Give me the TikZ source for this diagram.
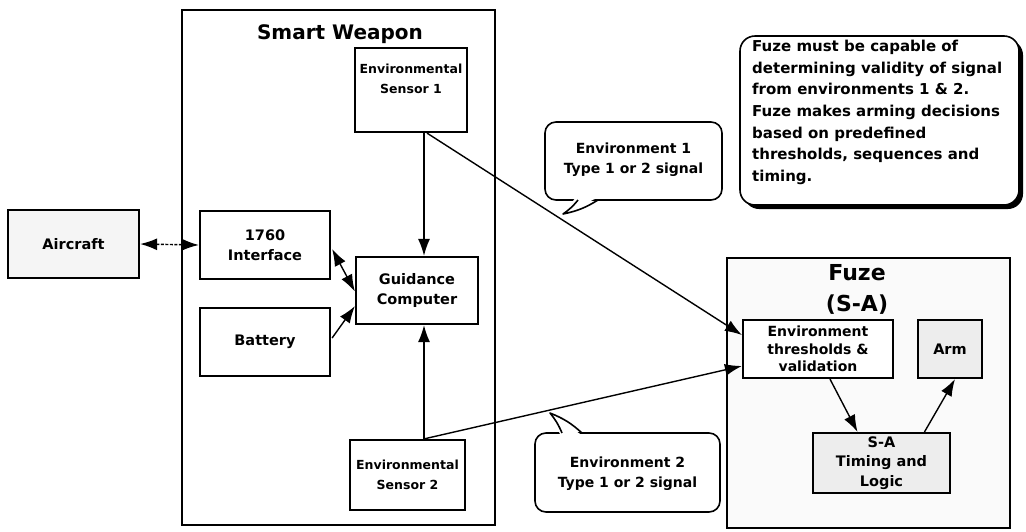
\documentclass[tikz,border=0pt]{standalone}
\usepackage{fontspec}
\setmainfont{DejaVu Sans}
\usetikzlibrary{arrows.meta,calc}
\begin{document}
\begin{tikzpicture}[x=1pt,y=-1pt,
  every node/.style={inner sep=0pt},
  frame/.style={draw, line width=2pt},
  blk/.style={draw, line width=2.2pt, fill=white, align=center,
    font=\bfseries\fontsize{14.5}{20.5}\selectfont},
  shaded/.style={blk, fill=black!7},
  bubble/.style={draw, line width=1.6pt, fill=white, rounded corners=11pt},
  btxt/.style={align=center, font=\bfseries\fontsize{14}{20}\selectfont},
  conn/.style={line width=1.4pt, -{Latex[length=17pt,width=12pt]}},
  dconn/.style={line width=1.4pt, {Latex[length=17pt,width=12pt]}-{Latex[length=17pt,width=12pt]}}
]
\useasboundingbox (0,0) rectangle (1026,531);
\fill[white] (0,0) rectangle (1026,531);

% smart weapon frame and its parts
\node[frame, minimum width=313pt, minimum height=515pt] (sw) at (338.5,267.5) {};
\node[font=\bfseries\fontsize{20}{24}\selectfont] (swt) at (340,34) {Smart Weapon};
\node[blk, fill=black!4, minimum width=131pt, minimum height=68pt] (air) at (73.5,244) {Aircraft};
\node[blk, minimum width=130pt, minimum height=68pt] (iface) at (265,245) {1760\\Interface};
\node[blk, minimum width=130pt, minimum height=68pt] (bat) at (265,342) {\raisebox{4pt}{Battery}};
\node[blk, minimum width=122pt, minimum height=67pt] (gc) at (417,290.5) {Guidance\\Computer};
\node[blk, minimum width=112pt, minimum height=84pt] (sen1) at (411,90) {};
\node[align=center, font=\bfseries\fontsize{12.5}{20}\selectfont] (sen1t) at (411,79) {Environmental\\Sensor 1};
\node[blk, minimum width=115pt, minimum height=70pt, font=\bfseries\fontsize{12.5}{20.5}\selectfont] (sen2) at (407.5,475) {Environmental\\Sensor 2};

% fuze frame and its parts
\node[frame, fill=black!2, minimum width=283pt, minimum height=270pt] (fz) at (868.5,393) {};
\node[font=\bfseries\fontsize{22}{26}\selectfont] (fzt) at (857,273) {Fuze};
\node[font=\bfseries\fontsize{22}{26}\selectfont] (fzs) at (857,305) {(S-A)};
\node[blk, minimum width=150pt, minimum height=58pt, font=\bfseries\fontsize{14}{17.5}\selectfont] (thr) at (818,349) {Environment\\thresholds \&\\validation};
\node[shaded, minimum width=64pt, minimum height=58pt] (arm) at (950,349) {Arm};
\node[shaded, minimum width=137pt, minimum height=60pt, font=\bfseries\fontsize{14.5}{19.5}\selectfont] (tl) at (881.5,463) {S-A\\Timing and\\Logic};

% note box with drop shadow
\fill[rounded corners=15pt] (744,40) rectangle (1023,209);
\draw[bubble, rounded corners=15pt] (740,36) rectangle (1019,205);
\node[anchor=north west, align=left, font=\bfseries\fontsize{15}{21.6}\selectfont] (note) at (752,40)
  {Fuze must be capable of\\determining validity of signal\\from environments 1 \& 2.\\Fuze makes arming decisions\\based on predefined\\thresholds, sequences and\\timing.};

% signal callouts
\draw[bubble] (545,122) rectangle (722,200);
\fill[white] (576,197) -- (563,214) -- (599,197) -- cycle;
\draw[line width=1.6pt, line join=round] (578,200) to[bend left=8] (563,214) to[bend right=10] (598,200);
\node[btxt] (c1) at (633.5,160) {Environment 1\\Type 1 or 2 signal};

\draw[bubble] (535,433) rectangle (720,512);
\fill[white] (561,436) -- (550,413) -- (583,436) -- cycle;
\draw[line width=1.6pt, line join=round] (562,433) to[bend right=8] (550,413) to[bend left=10] (582,433);
\node[btxt] (c2) at (627.5,474) {Environment 2\\Type 1 or 2 signal};

% connectors
\coordinate (vx) at (424,0);
\draw[dconn, dash pattern=on 3pt off 1.5pt] (air.east) -- (iface.west);
\draw[dconn] ($(iface.east)+(1,4)$) -- ($(gc.west)+(0,1)$);
\draw[conn] ($(bat.east)+(1,-4)$) -- ($(gc.south west)+(0,-19)$);
\draw[conn] (sen1.south -| vx) -- (gc.north -| vx);
\draw[conn] (sen2.north -| vx) -- (gc.south -| vx);
\draw[conn] ($(sen1.south -| vx)+(3,0)$) -- ($(thr.west)+(0,-14)$);
\draw[conn] (sen2.north -| vx) -- ($(thr.west)+(0,17)$);
\draw[conn] ($(thr.south)+(12,0)$) -- ($(tl.north)+(-24,0)$);
\draw[conn] ($(tl.north)+(43,0)$) -- ($(arm.south)+(5,0)$);
\end{tikzpicture}
\end{document}
